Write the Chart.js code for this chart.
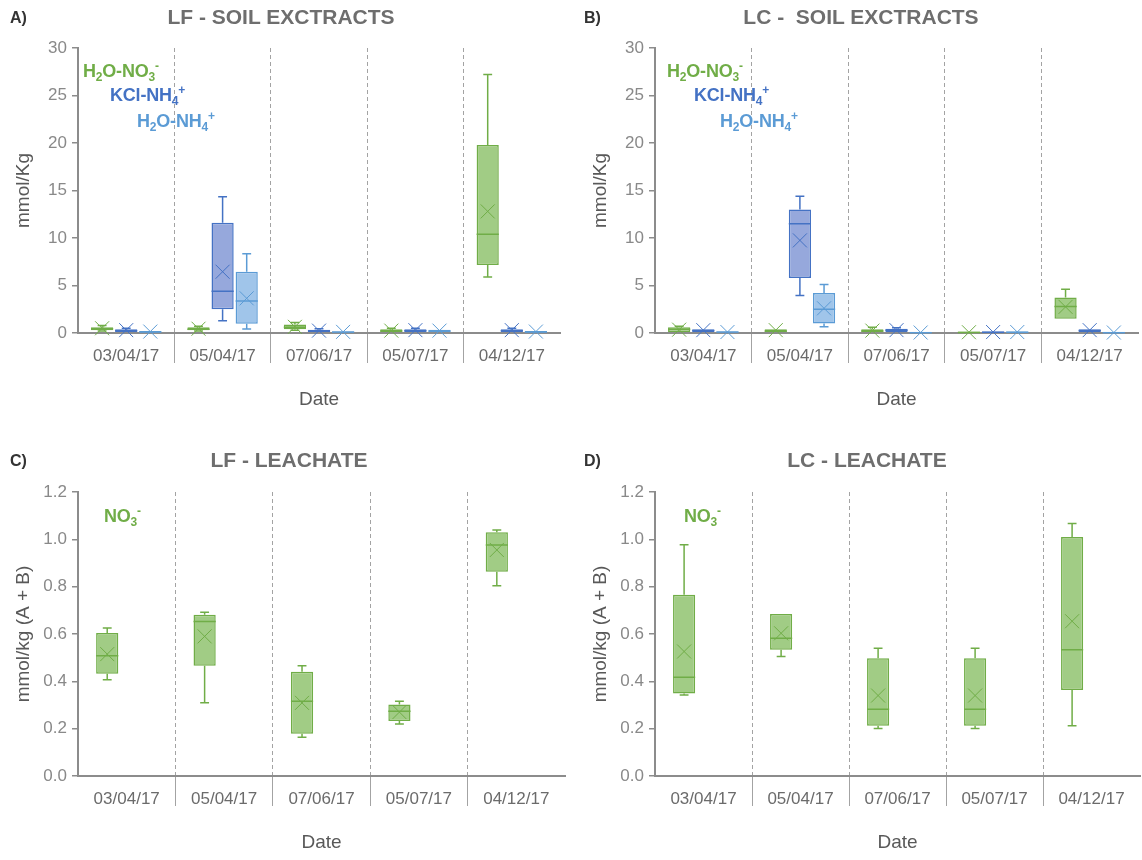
<!DOCTYPE html>
<html>
<head>
  <title>Soil extracts and leachate</title>
  <script src="https://cdn.jsdelivr.net/npm/chart.js"></script>
  <style>
    body { margin: 0; background: #fff; font-family: "Liberation Sans", Arial, sans-serif; }
    #page { position: relative; width: 1142px; height: 860px; overflow: hidden; }
    .panel { position: absolute; }
    .panel canvas { position: absolute; left: 0; top: 0; }
    .tag { position: absolute; font-weight: bold; font-size: 16px; color: #333; }
    .title { position: absolute; font-weight: bold; font-size: 21px; color: #6e6e6e; text-align: center; }
    .lab { position: absolute; font-weight: bold; font-size: 18px; line-height: 20px; white-space: nowrap; letter-spacing: -0.2px; }
    .lab sub { font-size: 12px; vertical-align: -4px; line-height: 0; }
    .lab sup { font-size: 12px; vertical-align: 7px; line-height: 0; }
  </style>
</head>
<body>
<div id="page">
  <div class="panel" style="left:0;top:0;width:571px;height:443px">
    <canvas id="cA" width="571" height="443"></canvas>
    <div class="tag" style="left:10px;top:9px">A)</div>
    <div class="title" style="left:0;top:5px;width:562px">LF - SOIL EXCTRACTS</div>
    <div class="lab" style="left:83px;top:61px;color:#70ad47">H<sub>2</sub>O-NO<sub>3</sub><sup>-</sup></div>
    <div class="lab" style="left:110px;top:85px;color:#4472c4">KCl-NH<sub>4</sub><sup>+</sup></div>
    <div class="lab" style="left:137px;top:111px;color:#5b9bd5">H<sub>2</sub>O-NH<sub>4</sub><sup>+</sup></div>
  </div>
  <div class="panel" style="left:577px;top:0;width:565px;height:443px">
    <canvas id="cB" width="565" height="443"></canvas>
    <div class="tag" style="left:7px;top:9px">B)</div>
    <div class="title" style="left:0;top:5px;width:568px">LC -&nbsp; SOIL EXCTRACTS</div>
    <div class="lab" style="left:90px;top:61px;color:#70ad47">H<sub>2</sub>O-NO<sub>3</sub><sup>-</sup></div>
    <div class="lab" style="left:117px;top:85px;color:#4472c4">KCl-NH<sub>4</sub><sup>+</sup></div>
    <div class="lab" style="left:143px;top:111px;color:#5b9bd5">H<sub>2</sub>O-NH<sub>4</sub><sup>+</sup></div>
  </div>
  <div class="panel" style="left:0;top:443px;width:571px;height:417px">
    <canvas id="cC" width="571" height="417"></canvas>
    <div class="tag" style="left:10px;top:9px">C)</div>
    <div class="title" style="left:0;top:5px;width:578px">LF - LEACHATE</div>
    <div class="lab" style="left:104px;top:63px;color:#70ad47">NO<sub>3</sub><sup>-</sup></div>
  </div>
  <div class="panel" style="left:577px;top:443px;width:565px;height:417px">
    <canvas id="cD" width="565" height="417"></canvas>
    <div class="tag" style="left:7px;top:9px">D)</div>
    <div class="title" style="left:0;top:5px;width:580px">LC - LEACHATE</div>
    <div class="lab" style="left:107px;top:63px;color:#70ad47">NO<sub>3</sub><sup>-</sup></div>
  </div>
</div>

<script>
  const dates = ['03/04/17', '05/04/17', '07/06/17', '05/07/17', '04/12/17'];

  // each row: [min, q1, median, q3, max, mean], one row per date
  const lfSoilNO3 = [[0.2, 0.3, 0.45, 0.6, 0.8, 0.5], [0.2, 0.3, 0.4, 0.6, 0.7, 0.45], [0.3, 0.4, 0.6, 0.9, 1.1, 0.65], [0.05, 0.1, 0.2, 0.4, 0.5, 0.25], [5.9, 7.15, 10.4, 19.8, 27.2, 12.8]];
  const lfSoilKCl = [[0.05, 0.1, 0.25, 0.4, 0.5, 0.3], [1.3, 2.5, 4.4, 11.6, 14.35, 6.45], [0.05, 0.1, 0.2, 0.35, 0.45, 0.25], [0.05, 0.1, 0.25, 0.4, 0.5, 0.3], [0.05, 0.1, 0.25, 0.4, 0.5, 0.3]];
  const lfSoilNH4 = [[0.02, 0.05, 0.1, 0.2, 0.25, 0.15], [0.42, 0.98, 3.37, 6.45, 8.35, 3.65], [0.02, 0.05, 0.1, 0.15, 0.2, 0.12], [0.05, 0.1, 0.2, 0.35, 0.4, 0.25], [0.02, 0.05, 0.1, 0.2, 0.25, 0.15]];

  const lcSoilNO3 = [[0.1, 0.1, 0.4, 0.6, 0.7, 0.35], [0.05, 0.1, 0.2, 0.4, 0.45, 0.3], [0.05, 0.1, 0.2, 0.4, 0.6, 0.25], [0, 0.02, 0.05, 0.15, 0.15, 0.08], [1.5, 1.5, 2.8, 3.75, 4.6, 2.75]];
  const lcSoilKCl = [[0.05, 0.1, 0.25, 0.4, 0.45, 0.3], [3.95, 5.8, 11.5, 13.0, 14.4, 9.75], [0.05, 0.1, 0.3, 0.45, 0.55, 0.3], [0, 0.02, 0.08, 0.15, 0.2, 0.1], [0.05, 0.1, 0.25, 0.4, 0.45, 0.3]];
  const lcSoilNH4 = [[0.02, 0.05, 0.1, 0.15, 0.2, 0.1], [0.65, 1.0, 2.5, 4.2, 5.1, 2.6], [0, 0, 0.03, 0.08, 0.1, 0.05], [0, 0.02, 0.08, 0.15, 0.2, 0.1], [0, 0, 0.03, 0.08, 0.1, 0.05]];

  const lfLeachNO3 = [[0.407, 0.432, 0.508, 0.604, 0.625, 0.515], [0.309, 0.466, 0.653, 0.681, 0.692, 0.59], [0.164, 0.178, 0.316, 0.44, 0.466, 0.309], [0.22, 0.232, 0.274, 0.302, 0.316, 0.27], [0.804, 0.863, 0.976, 1.03, 1.039, 0.955]];
  const lcLeachNO3 = [[0.342, 0.349, 0.417, 0.766, 0.977, 0.526], [0.505, 0.533, 0.582, 0.684, 0.684, 0.603], [0.201, 0.212, 0.282, 0.498, 0.54, 0.34], [0.201, 0.212, 0.282, 0.498, 0.54, 0.34], [0.212, 0.363, 0.533, 1.01, 1.067, 0.654]];

  const soilTicks = [0, 5, 10, 15, 20, 25, 30];
  const leachTicks = [0, 0.2, 0.4, 0.6, 0.8, 1.0, 1.2];

  const green = { line: '#70ad47', fill: '#a1cc85' };
  const blue = { line: '#4472c4', fill: '#96a8dc' };
  const lightBlue = { line: '#5b9bd5', fill: '#a0c5ea' };

  Chart.defaults.font.family = '"Liberation Sans", Arial, sans-serif';

  // whiskers, median line and mean cross on top of each floating bar
  const boxMarks = {
    id: 'boxMarks',
    afterDatasetsDraw(chart) {
      const ctx = chart.ctx;
      const y = chart.scales.y;
      chart.data.datasets.forEach((ds, di) => {
        if (!ds.stats) return;
        chart.getDatasetMeta(di).data.forEach((bar, i) => {
          const s = ds.stats[i];
          if (!s) return;
          const [mn, q1, md, q3, mx, mean] = s.map(v => y.getPixelForValue(v));
          const x = bar.x, w = bar.width, cap = w * 0.4;
          ctx.save();
          ctx.strokeStyle = ds.borderColor;
          ctx.lineWidth = 1.5;
          ctx.beginPath();
          if (mx < q3 - 0.5) {
            ctx.moveTo(x, q3); ctx.lineTo(x, mx);
            ctx.moveTo(x - cap / 2, mx); ctx.lineTo(x + cap / 2, mx);
          }
          if (mn > q1 + 0.5) {
            ctx.moveTo(x, q1); ctx.lineTo(x, mn);
            ctx.moveTo(x - cap / 2, mn); ctx.lineTo(x + cap / 2, mn);
          }
          ctx.moveTo(x - w / 2, md); ctx.lineTo(x + w / 2, md);
          ctx.stroke();
          const r = 7;
          ctx.lineWidth = 1;
          ctx.beginPath();
          ctx.moveTo(x - r, mean - r); ctx.lineTo(x + r, mean + r);
          ctx.moveTo(x + r, mean - r); ctx.lineTo(x - r, mean + r);
          ctx.stroke();
          ctx.restore();
        });
      });
    }
  };

  function boxSet(label, rows, col) {
    return {
      label,
      data: rows.map(r => [r[1], r[3]]),
      stats: rows,
      backgroundColor: col.fill,
      borderColor: col.line,
      borderWidth: 1.5,
      borderSkipped: false
    };
  }

  function makeChart(id, datasets, opt) {
    new Chart(document.getElementById(id), {
      type: 'bar',
      data: { labels: dates, datasets },
      plugins: [boxMarks],
      options: {
        responsive: false,
        animation: false,
        layout: { padding: opt.padding },
        datasets: { bar: { categoryPercentage: opt.catPct, barPercentage: opt.barPct } },
        plugins: { legend: { display: false }, tooltip: { enabled: false } },
        scales: {
          x: {
            offset: true,
            grid: {
              offset: true,
              color: c => (c.type === 'tick' && c.index > 0) ? '#a3a3a3' : 'rgba(0,0,0,0)',
              lineWidth: 1,
              tickLength: 30
            },
            border: { color: '#8c8c8c', width: 2, dash: [4, 3] },
            ticks: { padding: -17, color: '#6b6b6b', font: { size: 17 }, maxRotation: 0 },
            title: { display: true, text: 'Date', color: '#595959', font: { size: 19 }, padding: 4 },
            afterFit: s => { s.height = 82; }
          },
          y: {
            min: 0,
            max: opt.ticks[opt.ticks.length - 1],
            afterBuildTicks: s => { s.ticks = opt.ticks.map(v => ({ value: v })); },
            ticks: {
              color: '#898989',
              font: { size: 17 },
              padding: 5,
              callback: v => opt.decimals ? Number(v).toFixed(1) : v
            },
            grid: { drawOnChartArea: false, tickLength: 6, color: '#8c8c8c', lineWidth: 1.5 },
            border: { color: '#8c8c8c', width: 2 },
            title: { display: true, text: opt.yTitle, color: '#595959', font: { size: 19 }, padding: 4 },
            afterFit: s => { s.width = 70; }
          }
        }
      }
    });
  }

  makeChart('cA', [
    boxSet('H2O-NO3-', lfSoilNO3, green),
    boxSet('KCl-NH4+', lfSoilKCl, blue),
    boxSet('H2O-NH4+', lfSoilNH4, lightBlue)
  ], { padding: { left: 8, right: 11, top: 48, bottom: 28 }, catPct: 0.75, barPct: 0.92, ticks: soilTicks, yTitle: 'mmol/Kg' });

  makeChart('cB', [
    boxSet('H2O-NO3-', lcSoilNO3, green),
    boxSet('KCl-NH4+', lcSoilKCl, blue),
    boxSet('H2O-NH4+', lcSoilNH4, lightBlue)
  ], { padding: { left: 8, right: 4, top: 48, bottom: 28 }, catPct: 0.75, barPct: 0.92, ticks: soilTicks, yTitle: 'mmol/Kg' });

  // the empty second series keeps the NO3 box in the left slot, as in the source
  makeChart('cC', [
    boxSet('NO3-', lfLeachNO3, green),
    { label: '', data: dates.map(() => null) }
  ], { padding: { left: 8, right: 6, top: 49, bottom: 2 }, catPct: 0.8, barPct: 0.57, ticks: leachTicks, decimals: true, yTitle: 'mmol/kg (A + B)' });

  makeChart('cD', [
    boxSet('NO3-', lcLeachNO3, green),
    { label: '', data: dates.map(() => null) }
  ], { padding: { left: 8, right: 2, top: 49, bottom: 2 }, catPct: 0.8, barPct: 0.57, ticks: leachTicks, decimals: true, yTitle: 'mmol/kg (A + B)' });
</script>
</body>
</html>
